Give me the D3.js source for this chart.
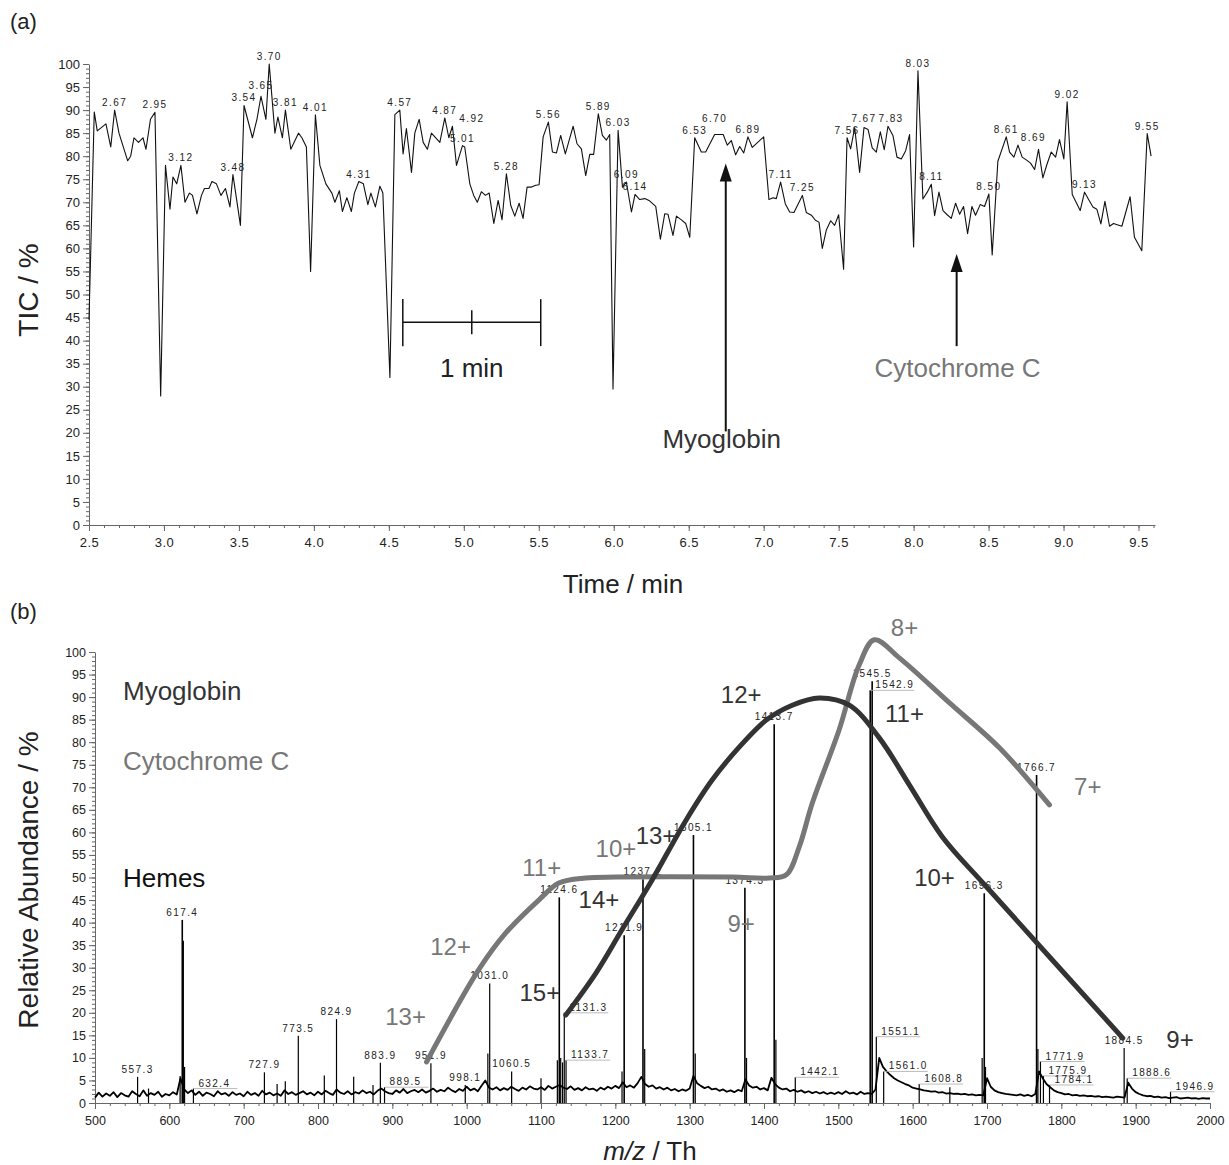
<!DOCTYPE html>
<html>
<head>
<meta charset="utf-8">
<script src="https://cdn.jsdelivr.net/npm/d3@7"></script>
<style>
  body { margin: 0; background: #fff; }
  svg { font-family: "Liberation Sans", Arial, Helvetica, sans-serif; }
</style>
</head>
<body>
<svg id="chart" width="1229" height="1165"></svg>
<script>
// ---- (a) total ion current trace: [time / min, TIC / %]
const ticPoints = [
  [2.500,44.5],[2.535,89.6],[2.555,85.5],[2.613,87],[2.645,82],[2.671,90],[2.700,85],[2.758,79],
  [2.778,80],[2.800,84],[2.830,83],[2.860,84],[2.880,81.5],[2.910,88],[2.940,89.5],[2.978,28],
  [3.010,78],[3.040,68.5],[3.060,75.5],[3.085,74],[3.113,78],[3.140,70],[3.170,72],[3.190,71.5],
  [3.220,67.5],[3.250,71.5],[3.270,73],[3.300,73],[3.320,74.5],[3.350,74],[3.380,71.5],[3.410,73],
  [3.440,69],[3.460,76],[3.510,65],[3.534,91],[3.590,84],[3.620,88],[3.647,93],[3.680,88],
  [3.702,100],[3.740,85],[3.760,88.5],[3.790,84],[3.810,90],[3.846,81.5],[3.897,85],[3.920,84],
  [3.950,82],[3.978,55],[4.010,89],[4.040,78],[4.080,74],[4.120,72],[4.140,70],[4.170,72.5],
  [4.190,68],[4.220,71],[4.250,68],[4.270,72],[4.300,74.5],[4.330,74],[4.360,69.5],[4.380,72],
  [4.410,69],[4.440,73.5],[4.460,72],[4.507,32],[4.540,89],[4.573,90],[4.595,80.5],[4.617,86],
  [4.651,76.5],[4.673,85],[4.702,88],[4.729,83],[4.757,81.5],[4.784,85],[4.840,83],[4.873,88.3],
  [4.900,84],[4.924,86.5],[4.951,78],[4.991,82.3],[5.006,82],[5.040,74],[5.066,71.5],[5.090,70],
  [5.117,72.3],[5.144,71.5],[5.169,72],[5.200,65.4],[5.229,70.4],[5.255,66.2],[5.284,76.2],[5.313,69.3],
  [5.340,67],[5.369,69.8],[5.395,66.5],[5.422,73.3],[5.451,73.3],[5.480,73.7],[5.502,73.8],[5.529,84.2],
  [5.564,87.4],[5.591,80.9],[5.618,80.7],[5.646,84.5],[5.677,80.5],[5.702,83.4],[5.729,86.5],[5.755,82.7],
  [5.784,81.6],[5.813,75.8],[5.840,80.4],[5.866,80.4],[5.897,89.2],[5.924,84.5],[5.951,83.5],[5.973,84.7],
  [5.995,29.5],[6.029,85.6],[6.058,73.3],[6.084,74.4],[6.118,67.9],[6.142,71.7],[6.173,70.6],[6.207,70.8],
  [6.235,70.4],[6.280,69.1],[6.311,62],[6.340,67.5],[6.362,67.4],[6.395,62.8],[6.418,67],[6.451,66.2],
  [6.480,65.4],[6.507,62.4],[6.540,84],[6.584,80.9],[6.613,80.9],[6.673,84.7],[6.730,84.7],[6.757,82.4],
  [6.784,83.4],[6.813,80.3],[6.840,82.1],[6.867,80.7],[6.895,84.2],[6.924,81.9],[7.000,84.2],[7.035,70.6],
  [7.062,71],[7.084,70.8],[7.113,74.4],[7.144,69.7],[7.173,67.9],[7.202,67.8],[7.258,71.5],[7.284,67.8],
  [7.318,67.2],[7.345,66.1],[7.369,65.7],[7.391,60],[7.418,64],[7.447,66],[7.473,65],[7.500,67.3],
  [7.533,55.5],[7.556,84],[7.580,81.6],[7.607,86.2],[7.640,76.5],[7.669,86.2],[7.696,85.8],[7.724,81.8],
  [7.751,80.9],[7.778,85.3],[7.804,81.4],[7.829,86.5],[7.862,84.5],[7.889,79.8],[7.918,79.4],[7.947,81.2],
  [7.973,84.7],[8.000,60.3],[8.029,98.5],[8.062,70.7],[8.091,72.2],[8.118,73.9],[8.140,67.1],[8.169,72.2],
  [8.196,68.2],[8.224,67.3],[8.251,66.5],[8.280,69.8],[8.307,67.4],[8.333,69.1],[8.360,63.2],[8.389,69.1],
  [8.413,67.2],[8.444,69.5],[8.473,69.1],[8.502,71.8],[8.524,58.6],[8.562,78.9],[8.618,84.2],[8.640,80.9],
  [8.669,79.8],[8.696,82.4],[8.724,79.8],[8.756,79.1],[8.780,78.5],[8.807,77.1],[8.833,81.5],[8.862,75.3],
  [8.889,78.2],[8.918,80.9],[8.947,79.8],[8.973,83.6],[9.002,79.4],[9.024,91.8],[9.058,71.7],[9.111,68.2],
  [9.140,72.2],[9.169,70.5],[9.196,69],[9.222,68.5],[9.249,65.3],[9.276,70.2],[9.307,64.8],[9.333,65.4],
  [9.389,64.8],[9.444,71.2],[9.473,62.4],[9.522,59.5],[9.558,84.9],[9.584,80]
];
// retention times printed over the TIC maxima
const ticLabels = ["2.67","2.95","3.12","3.48","3.54","3.65","3.70","3.81","4.01","4.31","4.57","4.87",
  "4.92","5.01","5.28","5.56","5.89","6.03","6.09","6.14","6.53","6.70","6.89","7.11","7.25","7.56",
  "7.67","7.83","8.03","8.11","8.50","8.61","8.69","9.02","9.13","9.55"];
const timeTicks = [2.5,3.0,3.5,4.0,4.5,5.0,5.5,6.0,6.5,7.0,7.5,8.0,8.5,9.0,9.5];

// ---- (b) mass spectrum
// noise floor, one value every 5 Th from 500 Th
const baselineStart = 500, baselineStep = 5;
const baseline = [
  1.2,2.3,1.4,2.1,1.6,2.4,1.3,2.2,1.7,1.4,2.6,2.0,1.5,2.8,1.6,2.2,1.8,2.5,1.4,2.0,
  1.7,2.4,1.9,5.5,3.0,2.2,2.8,1.8,2.5,1.6,2.3,2.0,1.5,2.6,1.9,2.2,1.6,2.4,1.8,2.1,
  1.5,2.5,1.8,2.2,1.6,2.7,1.9,2.3,1.7,2.1,1.6,2.8,2.0,2.4,1.8,2.2,2.6,1.9,2.3,1.7,
  2.5,1.9,2.7,2.2,1.8,3.0,2.3,2.0,2.6,1.9,2.4,2.1,2.8,2.2,2.5,1.9,2.7,3.2,2.6,2.2,
  2.0,2.8,2.3,3.1,2.2,2.6,2.9,2.4,3.0,2.3,2.7,3.2,2.5,2.9,2.6,3.4,2.8,2.4,3.1,2.7,
  3.6,2.8,3.2,2.6,3.8,5.0,3.4,3.0,3.5,2.8,3.3,2.9,3.6,3.1,2.7,3.4,3.0,3.7,3.2,3.0,
  3.5,2.9,3.8,3.2,3.6,4.0,3.4,3.1,3.7,2.9,3.3,2.8,3.5,3.0,3.2,2.7,3.4,3.0,3.6,3.2,
  3.8,3.3,4.6,3.5,3.9,3.4,4.4,5.8,4.2,3.6,3.9,3.2,3.5,3.0,3.4,2.8,3.1,2.6,3.0,2.7,
  3.2,6.0,4.4,3.8,3.3,3.6,3.0,3.2,2.7,3.0,2.5,2.8,2.4,2.9,2.6,5.2,3.9,3.4,3.6,3.0,
  3.3,2.8,5.6,4.2,3.4,3.0,3.2,2.6,2.9,2.5,2.8,2.3,2.6,2.2,2.5,2.1,2.4,2.0,2.3,2.0,
  2.4,2.0,2.6,2.1,2.3,1.9,2.5,2.0,2.2,2.0,3.0,10.0,8.0,7.0,6.2,5.5,5.0,4.6,4.2,3.9,
  3.4,3.2,3.0,2.8,2.7,2.5,2.6,2.3,2.4,2.1,2.2,2.0,2.1,1.9,2.0,1.8,1.9,1.7,1.8,1.7,
  5.5,3.6,2.8,2.4,2.2,2.0,1.9,1.8,1.7,1.9,1.6,1.8,1.5,2.0,7.0,5.5,4.2,3.5,2.8,2.4,
  2.2,1.9,2.0,1.7,1.8,1.6,1.7,1.5,1.6,1.4,1.5,1.3,1.4,1.3,1.2,1.4,1.3,1.2,4.5,3.2,
  2.4,2.0,1.7,1.5,1.6,1.3,1.4,1.2,1.3,1.1,1.2,1.3,1.0,1.1,1.2,1.0,1.1,0.9,1.1,1.0,
  1.0
];
// individual peaks: [m/z, relative abundance %]
const peaks = [
  [557.3,5.8],[572.0,3.2],[614.5,6],[617.4,40.6],[618.6,36],[620.5,8],[632.4,3.2],[727.9,6.8],
  [745.0,4.2],[756.0,4.8],[773.5,14.9],[808.5,6.1],[824.9,18.6],[848.0,5.8],[874.0,4.0],[883.9,8.9],
  [889.5,3.5],[951.9,8.8],[998.1,4.0],[1028.5,11],[1031.0,26.5],[1060.5,7.0],[1100.0,5.5],[1122.0,9.5],
  [1124.6,45.6],[1126.5,10],[1129.0,9],[1131.3,20.0],[1133.7,9.5],[1209.0,7],[1211.9,37.2],[1237.2,49.6],
  [1239.5,12],[1305.1,59.4],[1307.5,11],[1374.3,47.7],[1376.5,10],[1413.7,84],[1416.0,14],[1442.1,5.7],
  [1542.9,91.5],[1545.5,93.5],[1551.1,14.7],[1561.0,7],[1608.8,4.2],[1650.0,3.5],[1693.5,10],[1696.3,46.5],
  [1698.0,8],[1766.7,72.7],[1768.5,12],[1771.9,9.2],[1775.9,6],[1784.1,4],[1884.5,12.2],[1888.6,5.5],
  [1946.9,2.5]
];
// labels drawn centred above the peak
const topLabels = ["557.3","617.4","727.9","773.5","824.9","883.9","951.9","998.1","1031.0","1060.5",
  "1124.6","1211.9","1237.2","1305.1","1374.3","1413.7","1545.5","1696.3","1766.7","1884.5"];
// labels drawn beside the peak with a short leader
const sideLabels = ["632.4","889.5","1131.3","1133.7","1442.1","1542.9","1551.1","1561.0","1608.8",
  "1771.9","1775.9","1784.1","1888.6","1946.9"];
const mzTicks = [500,600,700,800,900,1000,1100,1200,1300,1400,1500,1600,1700,1800,1900,2000];

// charge-state envelopes: [m/z, %]
const cytEnvelope = [
  [946,9.1],[1016,29.5],[1052.6,37.7],[1097,45],[1124,48.8],[1160,49.9],[1200.8,50.1],[1357,50.1],
  [1407,49.9],[1430,50.6],[1447.4,56.8],[1465,66.5],[1501,82.7],[1528,97.1],[1548.5,102.7],[1582,98.7],
  [1649.6,88.7],[1717,78.7],[1784,66.1]
];
const myoEnvelope = [
  [1133.4,19.5],[1173.9,28.8],[1208.9,38.4],[1249.3,49.4],[1295.1,62.7],[1330.2,71.6],[1366.6,78.9],
  [1403,84.9],[1438,88.2],[1474.4,89.8],[1514.8,88.2],[1555.3,80.9],[1595.7,70.5],[1640,59],
  [1699.5,47.9],[1882.7,14.4]
];
// charge annotations: [text, m/z, %]
const cytCharges = [["13+",917.8,19.1],["12+",978.4,34.6],["11+",1101,52.1],["10+",1200.8,56.5],
  ["9+",1369.3,39.7],["8+",1589,105.3],["7+",1835.6,70.1]];
const myoCharges = [["15+",1098.4,24.4],["14+",1177.9,45],["13+",1254.7,59.4],["12+",1369.3,90.5],
  ["11+",1589,86.3],["10+",1629.4,49.9],["9+",1959.6,14]];

const axisColor = "#666", textColor = "#222", cytColor = "#777", myoColor = "#333";
const svg = d3.select("#chart");

function drawAxis(scale, orient, major, minor, fmt, tx, ty, fontSize) {
  const make = orient === "left" ? d3.axisLeft : d3.axisBottom;
  svg.append("g").attr("transform", `translate(${tx},${ty})`).attr("color", axisColor)
    .call(make(scale).tickValues(minor).tickSize(3).tickSizeOuter(0).tickFormat(""))
    .call(g => g.select(".domain").remove());
  const g = svg.append("g").attr("transform", `translate(${tx},${ty})`).attr("color", axisColor)
    .call(make(scale).tickValues(major).tickSize(6).tickSizeOuter(0).tickPadding(3).tickFormat(fmt));
  g.selectAll("text").attr("fill", textColor).style("font-size", fontSize + "px");
  return g;
}

// small peak labels; a label that would sit on an earlier one is lifted
// (when it stands higher) or pushed to the right (when it stands lower)
const LABEL_H = 11;
function peakText(g, x, y, s, anchor, placed) {
  const t = g.append("text").attr("x", x).attr("y", y).attr("text-anchor", anchor).attr("fill", textColor)
    .style("font-size", "10px").style("letter-spacing", "1.4px").text(s);
  if (!placed) return t;
  const w = t.node().getComputedTextLength();
  let cx = x, cy = y, moved = true;
  while (moved) {
    moved = false;
    for (const b of placed) {
      if (cx - w / 2 < b.x1 + 1 && cx + w / 2 > b.x0 - 1 && cy - LABEL_H < b.y1 && cy > b.y0) {
        if (cy < b.y1) cy = b.y0 - 1;
        else cx = b.x1 + 2 + w / 2;
        moved = true;
      }
    }
  }
  t.attr("x", cx).attr("y", cy);
  placed.push({ x0: cx - w / 2, x1: cx + w / 2, y0: cy - LABEL_H, y1: cy });
  return t;
}

// ================= panel (a)
const xa = d3.scaleLinear().domain([2.5, 9.61]).range([89, 1155]);
const ya = d3.scaleLinear().domain([0, 100]).range([525, 64]);

drawAxis(ya, "left", d3.range(0, 101, 5), d3.range(0, 101, 1), d3.format("d"), 89, 0, 13);
drawAxis(xa, "bottom", timeTicks, d3.range(25, 97).map(d => d / 10), d3.format(".1f"), 0, 525, 13)
  .selectAll("text").attr("dy", "1.0em").style("letter-spacing", "0.5px");

svg.append("path").datum(ticPoints)
  .attr("fill", "none").attr("stroke", "#111").attr("stroke-width", 1.1).attr("stroke-linejoin", "round")
  .attr("d", d3.line().x(d => xa(d[0])).y(d => ya(d[1])));

const ticG = svg.append("g"), ticPlaced = [];
ticLabels.forEach(s => {
  const t = +s;
  const top = d3.greatest(ticPoints.filter(p => Math.abs(p[0] - t) <= 0.03), p => p[1]);
  peakText(ticG, xa(top[0]), ya(top[1]) - 4, s, "middle", ticPlaced);
});

// 1 min scale bar
const bar = svg.append("g").attr("stroke", "#111").attr("stroke-width", 1.5);
bar.append("line").attr("x1", xa(4.593)).attr("x2", xa(5.513)).attr("y1", ya(44)).attr("y2", ya(44));
[4.593, 5.513].forEach(t => bar.append("line").attr("x1", xa(t)).attr("x2", xa(t)).attr("y1", ya(49)).attr("y2", ya(38.8)));
bar.append("line").attr("x1", xa(5.053)).attr("x2", xa(5.053)).attr("y1", ya(46.6)).attr("y2", ya(41.4));
svg.append("text").attr("x", xa(5.053)).attr("y", ya(32.2)).attr("text-anchor", "middle")
  .attr("fill", textColor).style("font-size", "26px").text("1 min");

// arrows
function arrow(t, v0, v1, color) {
  svg.append("line").attr("x1", xa(t)).attr("x2", xa(t)).attr("y1", ya(v0)).attr("y2", ya(v1) + 14)
    .attr("stroke", color).attr("stroke-width", 2);
  const x = xa(t), y = ya(v1);
  svg.append("path").attr("d", `M${x},${y}L${x - 6},${y + 18}L${x + 6},${y + 18}Z`).attr("fill", color);
}
arrow(6.747, 20.3, 78.4, "#111");
arrow(8.287, 38.8, 58.8, "#111");
svg.append("text").attr("x", xa(6.72)).attr("y", ya(16.6)).attr("text-anchor", "middle")
  .attr("fill", myoColor).style("font-size", "26px").text("Myoglobin");
svg.append("text").attr("x", xa(8.293)).attr("y", ya(32.2)).attr("text-anchor", "middle")
  .attr("fill", cytColor).style("font-size", "26px").text("Cytochrome C");

svg.append("text").attr("x", 10).attr("y", 29).attr("fill", textColor).style("font-size", "22px").text("(a)");
svg.append("text").attr("transform", "translate(38,290) rotate(-90)").attr("text-anchor", "middle")
  .attr("fill", textColor).style("font-size", "28px").text("TIC / %");
svg.append("text").attr("x", 623).attr("y", 593).attr("text-anchor", "middle")
  .attr("fill", textColor).style("font-size", "26px").text("Time / min");

// ================= panel (b)
const xb = d3.scaleLinear().domain([500, 2000]).range([95, 1210]);
const yb = d3.scaleLinear().domain([0, 100]).range([1103, 652]);

drawAxis(yb, "left", d3.range(0, 101, 5), d3.range(0, 101, 1), d3.format("d"), 95, 0, 12.5);
drawAxis(xb, "bottom", mzTicks, d3.range(500, 2001, 20), d3.format("d"), 0, 1103, 12.5)
  .selectAll("text").attr("dy", "1.0em");

svg.append("path").datum(baseline)
  .attr("fill", "none").attr("stroke", "#000").attr("stroke-width", 1.8).attr("stroke-linejoin", "round")
  .attr("d", d3.line().x((d, i) => xb(baselineStart + i * baselineStep)).y(d => yb(d)));

svg.append("g").selectAll("line").data(peaks).join("line")
  .attr("x1", d => xb(d[0])).attr("x2", d => xb(d[0]))
  .attr("y1", yb(0)).attr("y2", d => yb(d[1]))
  .attr("stroke", "#000").attr("stroke-width", d => d[1] > 30 ? 1.6 : 1.2);

const peakOf = s => peaks.find(p => p[0].toFixed(1) === s);
const specG = svg.append("g");
topLabels.forEach(s => {
  const p = peakOf(s);
  peakText(specG, xb(p[0]), yb(p[1]) - 4, s, "middle");
});
sideLabels.forEach(s => {
  const p = peakOf(s), x = xb(p[0]), y = yb(p[1]);
  specG.append("line").attr("x1", x).attr("x2", x + 44).attr("y1", y).attr("y2", y)
    .attr("stroke", "#aaa").attr("stroke-width", 0.8);
  peakText(specG, x + 5, y - 2, s, "start");
});

const envLine = d3.line().x(d => xb(d[0])).y(d => yb(d[1])).curve(d3.curveCatmullRom.alpha(0.5));
svg.append("path").datum(cytEnvelope).attr("fill", "none").attr("stroke", cytColor)
  .attr("stroke-width", 5).attr("stroke-linecap", "round").attr("d", envLine);
svg.append("path").datum(myoEnvelope).attr("fill", "none").attr("stroke", myoColor)
  .attr("stroke-width", 5).attr("stroke-linecap", "round").attr("d", envLine);

function charges(list, color) {
  svg.append("g").selectAll("text").data(list).join("text")
    .attr("x", d => xb(d[1])).attr("y", d => yb(d[2])).attr("dy", "0.35em")
    .attr("text-anchor", "middle").attr("fill", color).style("font-size", "24px").text(d => d[0]);
}
charges(cytCharges, cytColor);
charges(myoCharges, myoColor);

svg.append("text").attr("x", 123).attr("y", 700).attr("fill", myoColor).style("font-size", "26px").text("Myoglobin");
svg.append("text").attr("x", 123).attr("y", 770).attr("fill", cytColor).style("font-size", "26px").text("Cytochrome C");
svg.append("text").attr("x", 123).attr("y", 887).attr("fill", "#111").style("font-size", "26px").text("Hemes");

svg.append("text").attr("x", 10).attr("y", 619).attr("fill", textColor).style("font-size", "22px").text("(b)");
svg.append("text").attr("transform", "translate(38,880) rotate(-90)").attr("text-anchor", "middle")
  .attr("fill", textColor).style("font-size", "28px").text("Relative Abundance / %");
const xt = svg.append("text").attr("x", 650).attr("y", 1160).attr("text-anchor", "middle")
  .attr("fill", textColor).style("font-size", "26px");
xt.append("tspan").style("font-style", "italic").text("m/z");
xt.append("tspan").text(" / Th");
</script>
</body>
</html>
